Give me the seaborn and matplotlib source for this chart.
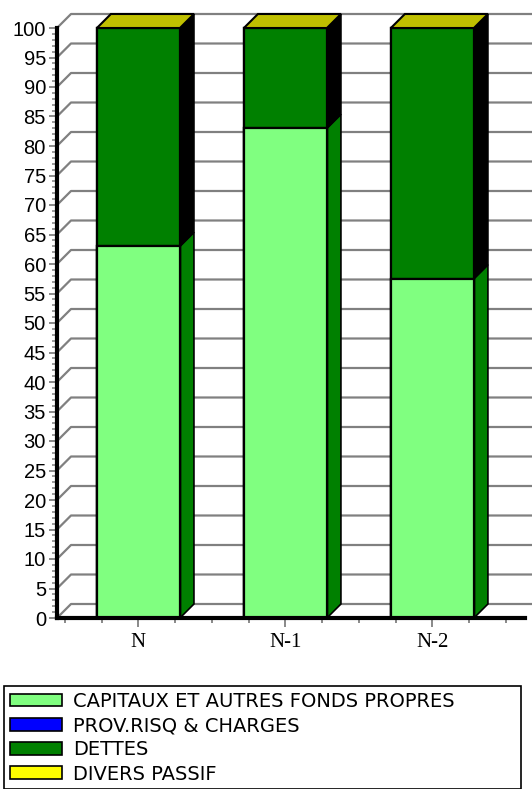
import numpy as np
import matplotlib
matplotlib.use("Agg")
import matplotlib.pyplot as plt
from matplotlib.patches import Polygon, Patch
from matplotlib.ticker import MultipleLocator
import seaborn as sns

# ─── DATA ─────────────────────────────────────────────
years = ["N", "N-1", "N-2"]
capitaux = [63.0, 83.0, 57.5]
prov_risq = [0.0, 0.0, 0.0]
dettes = [37.0, 17.0, 42.5]
divers = [0.0, 0.0, 0.0]

series_names = ["CAPITAUX ET AUTRES FONDS PROPRES", "PROV.RISQ & CHARGES",
                "DETTES", "DIVERS PASSIF"]
front_colors = ["#80FF80", "#0000FF", "#008000", "#FFFF00"]
side_colors = ["#008000", "#000080", "#000000", "#808000"]
top_color = "#C0C000"

W, H = 532, 789
fig = plt.figure(figsize=(W / 100, H / 100), dpi=100)
ax = fig.add_axes([57 / W, 171 / H, 468 / W, 590 / H])

XMIN, XMAX = -0.554, 2.63
DX = 14 / 147           # depth in x data units
DY = 14 / 5.9           # depth in y data units

# ─── stacked front faces (seaborn) ────────────────────
stack = np.vstack([capitaux, prov_risq, dettes, divers])
cum = np.cumsum(stack, axis=0)
for k in range(3, -1, -1):
    sns.barplot(x=years, y=cum[k], color=front_colors[k], saturation=1,
                width=0.565, edgecolor="black", linewidth=1.6, ax=ax, zorder=3)

# ─── 3D side and top faces from the bar geometry ──────
bars = ax.patches[-3:]  # capitaux bars (drawn last) give x positions
for i, b in enumerate(bars):
    xl = b.get_x()
    xr = xl + b.get_width()
    bottom = 0.0
    for k in range(4):
        top = cum[k][i]
        if top > bottom:
            side = Polygon([(xr, bottom), (xr + DX, bottom + DY),
                            (xr + DX, top + DY), (xr, top)],
                           closed=True, facecolor=side_colors[k],
                           edgecolor="black", linewidth=1.2, zorder=2.5)
            ax.add_patch(side)
        bottom = top
    total = cum[3][i]
    lid = Polygon([(xl, total), (xr, total), (xr + DX, total + DY),
                   (xl + DX, total + DY)], closed=True, facecolor=top_color,
                  edgecolor="black", linewidth=1.5, zorder=4, clip_on=False)
    ax.add_patch(lid)
for p in ax.patches:
    p.set_clip_on(False)

# ─── back wall gridlines ──────────────────────────────
for v in range(0, 101, 5):
    ax.plot([XMIN, XMIN + DX, 2.75], [v, v + DY, v + DY], color="#808080",
            lw=1.6, clip_on=False, zorder=0.5, solid_capstyle="butt")

ax.set_xlim(XMIN, XMAX)
ax.set_ylim(0, 100)
ax.set_xlabel("")
ax.set_ylabel("")
ax.set_facecolor("none")

for s in ["top", "right"]:
    ax.spines[s].set_visible(False)
for s in ["left", "bottom"]:
    ax.spines[s].set_linewidth(3)
    ax.spines[s].set_color("black")
    ax.spines[s].set_zorder(5)

ax.yaxis.set_major_locator(MultipleLocator(5))
ax.yaxis.set_minor_locator(MultipleLocator(1))
ax.set_xticks([0, 1, 2])
ax.set_xticklabels(years)
ax.xaxis.set_minor_locator(MultipleLocator(0.25))
ax.tick_params(axis="y", which="major", length=6, width=1.3, color="#808080",
               labelsize=14.5, pad=2)
ax.tick_params(axis="y", which="minor", length=3.5, width=1.1, color="#808080")
ax.tick_params(axis="x", which="major", length=6.5, width=1.3, color="#808080",
               labelsize=15, pad=4)
ax.tick_params(axis="x", which="minor", length=3.5, width=1.3, color="#808080")
for t in ax.get_yticklabels():
    t.set_family("Liberation Sans")
for t in ax.get_xticklabels():
    t.set_family("Liberation Serif")

# ─── legend ───────────────────────────────────────────
handles = [Patch(facecolor=c, edgecolor="black", linewidth=1.2) for c in front_colors]
leg = fig.legend(handles, series_names, loc="upper left",
                 bbox_to_anchor=(4 / W, 1 - 686 / H, 517 / W, 0.0), mode="expand",
                 prop={"family": "DejaVu Sans", "size": 14}, handlelength=2.7,
                 handleheight=0.62, handletextpad=0.55, labelspacing=0.27,
                 borderpad=0.3, borderaxespad=0, fancybox=False, framealpha=1)
leg.get_frame().set_edgecolor("black")
leg.get_frame().set_linewidth(1.2)

fig.savefig("out.png", dpi=100)
